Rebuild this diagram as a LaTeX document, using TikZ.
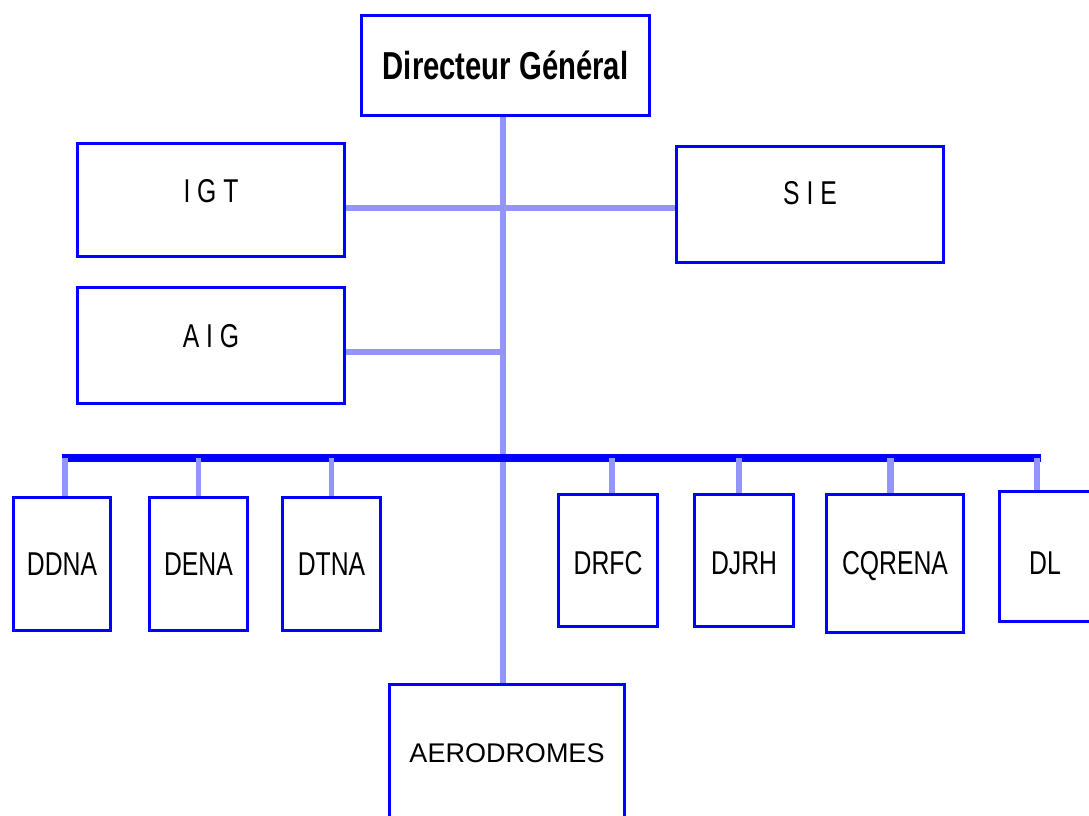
\documentclass[tikz,border=0pt]{standalone}
\usepackage{fontspec}
\setmainfont{Liberation Sans}
\newfontfamily\boxfont{Liberation Sans}[FakeStretch=0.75]
\usepackage{tikz}
\definecolor{boxblue}{RGB}{0,0,255}
\definecolor{linkblue}{RGB}{148,148,255}
\tikzset{
  unit/.style={draw=boxblue,line width=3pt,fill=white,inner sep=0pt,
    font=\boxfont\fontsize{33}{33}\selectfont},
  link/.style={draw=linkblue,line width=5.5pt},
  bus/.style={draw=boxblue,line width=8pt}
}

\begin{document}
\begin{tikzpicture}[x=1pt,y=-1pt]
    \useasboundingbox (0,0) rectangle (1089,815);
    \coordinate (busL) at (62,458);
    \coordinate (busR) at (1041,458);
    \node[unit,minimum width=288pt,minimum height=100pt,
      font=\boxfont\bfseries\fontsize{39}{39}\selectfont] (dg) at (505.5,65.5) {Directeur Général};
    \node[unit,minimum width=267pt,minimum height=113pt] (igt) at (211,200) {\raisebox{9pt}[\height][\depth]{I G T}};
    \node[unit,minimum width=267pt,minimum height=116pt] (sie) at (810,204.5) {\raisebox{11pt}[\height][\depth]{S I E}};
    \node[unit,minimum width=267pt,minimum height=116pt] (aig) at (211,345.5) {\raisebox{9.5pt}[\height][\depth]{A I G}};
    \node[unit,minimum width=97pt,minimum height=133pt] (ddna) at (62,564) {DDNA};
    \node[unit,minimum width=98pt,minimum height=133pt] (dena) at (198.5,564) {DENA};
    \node[unit,minimum width=98pt,minimum height=133pt] (dtna) at (331.5,564) {DTNA};
    \node[unit,minimum width=99pt,minimum height=132pt] (drfc) at (608,560.5) {\raisebox{-3pt}[\height][\depth]{DRFC}};
    \node[unit,minimum width=99pt,minimum height=132pt] (djrh) at (744,560.5) {\raisebox{-3pt}[\height][\depth]{DJRH}};
    \node[unit,minimum width=137pt,minimum height=138pt] (cqrena) at (895,563.5) {\raisebox{-3pt}[\height][\depth]{CQRENA}};
    \node[unit,minimum width=91pt,minimum height=130pt] (dl) at (1045,556.5) {\raisebox{-6.5pt}[\height][\depth]{DL}};
    \node[unit,minimum width=235pt,minimum height=138pt,
      font=\fontsize{27}{27}\selectfont] (aero) at (507,753.5) {AERODROMES};
    \draw[link] ([xshift=-2.5pt]dg.south) -- ([xshift=-2.5pt]dg.south |- aero.north);
    \draw[link] ([yshift=-8pt]igt.east) -- ([yshift=-8pt]igt.east -| sie.west);
    \draw[link] ([yshift=-6.5pt]aig.east) -- ([xshift=-2.5pt]dg.south |- 0,352);
    \draw[bus] (busL) -- (busR);
    \draw[link] ([xshift=3pt]ddna.north) -- ([xshift=3pt]ddna.north |- busL);
    \draw[link] (dena.north) -- (dena.north |- busL);
    \draw[link] (dtna.north) -- (dtna.north |- busL);
    \draw[link] ([xshift=4pt]drfc.north) -- ([xshift=4pt]drfc.north |- busL);
    \draw[link] ([xshift=-5pt]djrh.north) -- ([xshift=-5pt]djrh.north |- busL);
    \draw[link,line width=7pt] ([xshift=-5pt]cqrena.north) -- ([xshift=-5pt]cqrena.north |- busL);
    \draw[link] ([xshift=-8pt]dl.north) -- ([xshift=-8pt]dl.north |- busL);
\end{tikzpicture}
\end{document}
